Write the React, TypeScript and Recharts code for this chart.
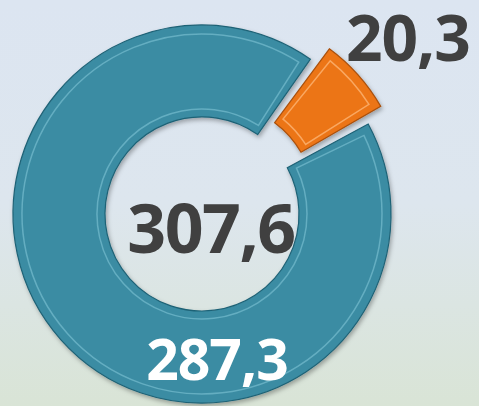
import { PieChart, Pie, Cell } from 'recharts'

const names = ['B', 'A']
const values = [20.3, 287.3]
const colors = ['#ec7415', '#3a8ca3']
const edgeColors = ['#a9500c', '#1f6276']
const bevelColors = ['rgba(255,190,130,0.7)', 'rgba(150,215,230,0.45)']
const labelColors = ['#404040', '#ffffff']

const data = names.map((name, i) => ({ name, value: values[i] }))
const total = values.reduce((a, b) => a + b, 0)

const fmt = (v: number) => v.toFixed(1).replace('.', ',')

// label offsets from the (exploded) slice centre, baseline y
const labelSpots = [
  { dx: 191, dy: -140, size: 64, spacing: -1 },
  { dx: 15, dy: 166, size: 57, spacing: -1 },
]
// inset outline per slice: start shift and padding so the inner line sits inside the slice
const bevelStart = [2.5, 0.2]
const bevelPad = [39, 4.2]

const FONT = '"Open Sans", sans-serif'
const CX = 202
const CY = 214
const EXPLODE = 20
const START = 53.5
const R_IN = 97
const R_OUT = 189

const rad = Math.PI / 180

function makeLabel(only: number) {
  return (props: any) => {
    const { cx, cy, index } = props
    if (index !== only) return null
    const s = labelSpots[index]
    return (
      <text
        x={cx + s.dx}
        y={cy + s.dy}
        textAnchor="middle"
        fill={labelColors[index]}
        fontSize={s.size}
        fontWeight={700}
        fontFamily={FONT}
        letterSpacing={s.spacing}
      >
        {fmt(values[index])}
      </text>
    )
  }
}

function ring(show: number, cx: number, cy: number, key: string) {
  return [
    <Pie
      key={key}
      data={data}
      dataKey="value"
      cx={cx}
      cy={cy}
      innerRadius={R_IN}
      outerRadius={R_OUT}
      startAngle={START}
      endAngle={START - 360}
      paddingAngle={1.5}
      label={makeLabel(show)}
      labelLine={false}
      isAnimationActive={false}
    >
      {data.map((d, i) => (
        <Cell
          key={d.name}
          fill={i === show ? colors[i] : 'none'}
          stroke={i === show ? edgeColors[i] : 'none'}
          strokeWidth={1.2}
          filter={i === show ? 'url(#ringShadow)' : undefined}
        />
      ))}
    </Pie>,
    <Pie
      key={key + '-bevel'}
      data={data}
      dataKey="value"
      cx={cx}
      cy={cy}
      innerRadius={R_IN + 8}
      outerRadius={R_OUT - 9}
      startAngle={START - bevelStart[show]}
      endAngle={START - bevelStart[show] - 360}
      paddingAngle={bevelPad[show]}
      labelLine={false}
      isAnimationActive={false}
    >
      {data.map((d, i) => (
        <Cell
          key={d.name}
          fill="none"
          stroke={i === show ? bevelColors[i] : 'none'}
          strokeWidth={1.5}
        />
      ))}
    </Pie>,
  ]
}

export default function App() {
  // orange slice pulled out along its mid angle
  const mid = START - ((values[0] / total) * 360) / 2
  const ex = CX + EXPLODE * Math.cos(mid * rad)
  const ey = CY - EXPLODE * Math.sin(mid * rad)

  return (
    <div
      style={{
        position: 'fixed',
        left: 0,
        top: 0,
        width: 479,
        height: 406,
        background: 'linear-gradient(180deg, #dce5f1 0%, #dde6ee 50%, #d9e4d6 100%)',
      }}
    >
      <PieChart width={479} height={406} margin={{ top: 0, right: 0, bottom: 0, left: 0 }}>
        <defs>
          <filter id="ringShadow" x="-10%" y="-10%" width="130%" height="130%">
            <feDropShadow dx={1.5} dy={2.5} stdDeviation={2} floodColor="#000" floodOpacity={0.3} />
          </filter>
        </defs>
        {ring(1, CX, CY, 'teal')}
        {ring(0, ex, ey, 'orange')}
        <text
          x={CX + 9}
          y={CY + 39}
          textAnchor="middle"
          fill="#404040"
          fontSize={68}
          fontWeight={700}
          fontFamily={FONT}
          letterSpacing={-1.5}
        >
          {fmt(total)}
        </text>
      </PieChart>
    </div>
  )
}
